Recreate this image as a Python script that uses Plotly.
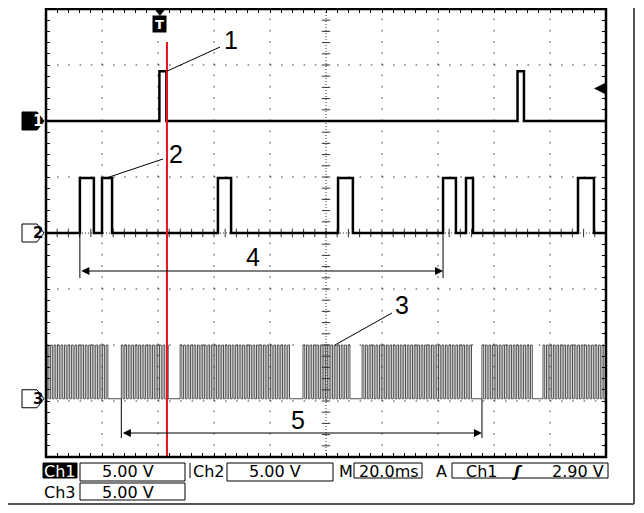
import plotly.graph_objects as go

# ---------------- data (time in ms, levels in screen divisions) ----------------
MS_PER_DIV = 20
N_XDIV, N_YDIV = 10, 8
ch1_levels = (6.0, 6.89)
ch2_levels = (4.0, 4.98)
ch3_levels = (1.04, 2.0)
ch1_pulses = [(40.5, 43.0), (168.4, 170.7)]
ch2_pulses = [(12.1, 17.1), (20.0, 23.6), (61.4, 66.1), (104.3, 109.6),
              (141.8, 146.4), (150.0, 152.5), (190.0, 195.7)]
ch3_bursts = [(0.4, 23.1), (26.9, 43.9), (47.9, 87.8), (91.8, 109.2),
              (112.9, 152.1), (155.7, 173.9), (177.5, 200.0)]
ch3_bit_ms = 0.62
trigger_ms = 40.7
cursor_ms = 43.2
trigger_level_div = 6.58

XMAX = MS_PER_DIV * N_XDIV

# ---------------- geometry (page pixels; page body has an 8px margin) ----------------
OFF = 8
PX0, PX1, PY0, PY1 = 46, 606, 9, 457          # plot area on the page
W, H = 644 - 2 * OFF, 513 - 2 * OFF           # keep the page free of scrollbars
L, T = PX0 - OFF, PY0 - OFF
R, B = W - (PX1 - OFF), H - (PY1 - OFF)
PW, PH = PX1 - PX0, PY1 - PY0


def pxx(x):  # page x -> paper
    return (x - PX0) / PW


def pxy(y):  # page y -> paper
    return (PY1 - y) / PH


def xms(x):
    return pxx(x) * XMAX


def ydiv(y):
    return pxy(y) * N_YDIV


def step(pulses, lo, hi):
    xs, ys = [0], [lo]
    for a, b in pulses:
        xs += [a, b]
        ys += [hi, lo]
    xs.append(XMAX)
    ys.append(lo)
    return xs, ys


ch3_pulses = []
for a, b in ch3_bursts:
    t = a
    while t + ch3_bit_ms <= b + 1e-9:
        ch3_pulses.append((t, t + ch3_bit_ms))
        t += 2 * ch3_bit_ms

fig = go.Figure()

# grid (dotted) ------------------------------------------------------------
shapes = []
for i in range(1, N_XDIV):
    xv = i * MS_PER_DIV
    dash = "1px,2px" if i == N_XDIV // 2 else "1.5px,9.7px"
    shapes.append(dict(type="line", xref="x", yref="y", x0=xv, x1=xv, y0=0, y1=N_YDIV,
                       line=dict(color="#333", width=1, dash=dash), layer="below"))
for j in range(1, N_YDIV):
    dash = "1px,2px" if j == N_YDIV // 2 else "1.5px,9.7px"
    shapes.append(dict(type="line", xref="x", yref="y", x0=0, x1=XMAX, y0=j, y1=j,
                       line=dict(color="#333", width=1, dash=dash), layer="below"))

# center-line ticks
fig.add_trace(go.Scatter(x=[XMAX / 2] * (N_YDIV * 5 + 1), y=[k * 0.2 for k in range(N_YDIV * 5 + 1)],
                         mode="markers", marker=dict(symbol="line-ew", size=6, line=dict(width=1, color="#333")),
                         hoverinfo="skip", showlegend=False))
fig.add_trace(go.Scatter(x=[k * MS_PER_DIV / 5 for k in range(N_XDIV * 5 + 1)], y=[N_YDIV / 2] * (N_XDIV * 5 + 1),
                         mode="markers", marker=dict(symbol="line-ns", size=6, line=dict(width=1, color="#333")),
                         hoverinfo="skip", showlegend=False))

# traces --------------------------------------------------------------------
for pulses, (lo, hi), w, col in [(ch1_pulses, ch1_levels, 2.5, "black"), (ch2_pulses, ch2_levels, 2.5, "black"),
                                 (ch3_pulses, ch3_levels, 0.9, "#3a3a3a")]:
    xs, ys = step(pulses, lo, hi)
    fig.add_trace(go.Scatter(x=xs, y=ys, mode="lines", line=dict(color=col, width=w, shape="hv"),
                             hoverinfo="skip", showlegend=False))

# red cursor
shapes.append(dict(type="line", xref="x", yref="y", x0=cursor_ms, x1=cursor_ms,
                   y0=0, y1=ydiv(42), line=dict(color="#e3121b", width=2)))

# callout lines
callouts = [((220, 47), (cursor_ms, ch1_levels[1])),
            ((163, 159), (xms(106), ch2_levels[1])),
            ((392, 313), (xms(335), ch3_levels[1]))]
for (tx, ty), (hx, hy) in callouts:
    shapes.append(dict(type="line", xref="x", yref="y", x0=xms(tx), y0=ydiv(ty), x1=hx, y1=hy,
                       line=dict(color="black", width=1)))

# span markers 4 and 5
span4 = (ch2_pulses[0][0], ch2_pulses[4][0])
span5 = (ch3_bursts[1][0], ch3_bursts[5][0])
annotations = []
for (a, b), base, yarr, ybot in [(span4, ch2_levels[0], ydiv(271), ydiv(278)),
                                  (span5, ch3_levels[0], ydiv(433), ydiv(438))]:
    for xv in (a, b):
        shapes.append(dict(type="line", xref="x", yref="y", x0=xv, x1=xv, y0=base, y1=ybot,
                           line=dict(color="black", width=1)))
    annotations.append(dict(x=b, y=yarr, ax=a, ay=yarr, xref="x", yref="y", axref="x", ayref="y",
                            text="", showarrow=True, arrowhead=2, arrowside="end+start",
                            arrowsize=1.6, arrowwidth=1, arrowcolor="black", standoff=0, startstandoff=0))

# number labels
for txt, (x, y) in [("1", (231, 40)), ("2", (176, 154)), ("3", (402, 305)),
                    ("4", (253, 257)), ("5", (298, 420))]:
    annotations.append(dict(x=xms(x), y=ydiv(y), xref="x", yref="y", text=txt, showarrow=False,
                            font=dict(family="Liberation Sans", size=25, color="black")))

# trigger level arrow (right)
shapes.append(dict(type="line", xref="paper", yref="y", x0=pxx(597), x1=pxx(607),
                   y0=trigger_level_div, y1=trigger_level_div, line=dict(color="black", width=2)))
annotations.append(dict(x=xms(594), y=trigger_level_div, xref="x", yref="y", ax=10, ay=0, text="",
                        showarrow=True, arrowhead=2, arrowsize=1.3, arrowwidth=2, arrowcolor="black",
                        standoff=0))
# trigger position marker
fig.add_trace(go.Scatter(x=[trigger_ms], y=[ydiv(12)], mode="markers",
                         marker=dict(symbol="triangle-down", size=8, color="black"),
                         cliponaxis=False, hoverinfo="skip", showlegend=False))
annotations.append(dict(x=trigger_ms, y=ydiv(24), xref="x", yref="y", text="<b>T</b>", showarrow=False,
                        bgcolor="black", width=11, height=14, borderpad=1,
                        font=dict(family="DejaVu Sans", size=13, color="white")))

# channel markers on the left
for label, base, filled in [("1", ch1_levels[0], True), ("2", ch2_levels[0], False), ("3", ch3_levels[0], False)]:
    shapes.append(dict(type="path", xref="paper", yref="y", xsizemode="pixel", ysizemode="pixel",
                       xanchor=0, yanchor=base,
                       path="M -24,-9 L -9,-9 L -2,0 L -9,9 L -24,9 Z",
                       fillcolor="black" if filled else "white", line=dict(color="black", width=1)))
    annotations.append(dict(x=pxx(31), y=base, xref="paper", yref="y", text="<b>%s</b>" % label,
                            showarrow=False, font=dict(family="DejaVu Sans", size=15,
                                                       color="white" if filled else "black")))

# status bar ----------------------------------------------------------------
SF = dict(family="DejaVu Sans", size=16, color="black")


def box(x0, y0, x1, y1, fill=None):
    shapes.append(dict(type="rect", xref="paper", yref="paper", x0=pxx(x0), x1=pxx(x1),
                       y0=pxy(y1), y1=pxy(y0), line=dict(color="black", width=1),
                       fillcolor=fill if fill else "rgba(0,0,0,0)"))


def text(x, y, s, color="black"):
    f = dict(SF)
    f["color"] = color
    annotations.append(dict(x=pxx(x), y=pxy(y), xref="paper", yref="paper", text=s,
                            showarrow=False, font=f, xanchor="center", yanchor="middle"))


box(43, 463, 77, 478, fill="black")
text(60, 471, "Ch1", "white")
box(80, 463, 185, 481)
text(128, 471, "5.00 V")
shapes.append(dict(type="line", xref="paper", yref="paper", x0=pxx(190), x1=pxx(190),
                   y0=pxy(478), y1=pxy(463), line=dict(color="black", width=1)))
text(209, 471, "Ch2")
box(227, 463, 333, 481)
text(275, 471, "5.00 V")
text(346, 471, "M")
box(354, 463, 422, 478)
text(389, 471, "20.0ms")
text(441, 471, "A")
box(452, 463, 608, 478)
text(482, 471, "Ch1")
text(517, 471, "<i><b>ʃ</b></i>")
text(578, 471, "2.90 V")
text(60, 492, "Ch3")
box(80, 483, 185, 500)
text(128, 492, "5.00 V")

# plot frame (drawn as a rect so the top edge is not clipped)
shapes.append(dict(type="rect", xref="paper", yref="paper", x0=0, x1=1, y0=0, y1=1,
                   line=dict(color="black", width=2.5)))

# screenshot frame (right and bottom edges)
shapes.append(dict(type="line", xref="paper", yref="paper", x0=pxx(634), x1=pxx(634),
                   y0=pxy(0), y1=pxy(504), line=dict(color="#555", width=2)))
shapes.append(dict(type="line", xref="paper", yref="paper", x0=pxx(0), x1=pxx(634),
                   y0=pxy(504), y1=pxy(504), line=dict(color="#555", width=2)))

axis_common = dict(showgrid=False, zeroline=False, showline=False,
                   mirror="ticks", ticks="inside", ticklen=4, tickcolor="black", tickwidth=1,
                   showticklabels=False, fixedrange=True)
fig.update_layout(
    width=W, height=H, margin=dict(l=L, r=R, t=T, b=B, autoexpand=False),
    paper_bgcolor="white", plot_bgcolor="white", showlegend=False,
    xaxis=dict(range=[0, XMAX], tick0=0, dtick=MS_PER_DIV / 5, **axis_common),
    yaxis=dict(range=[0, N_YDIV], tick0=0, dtick=0.2, **axis_common),
    shapes=shapes, annotations=annotations,
)
fig.write_html("out.html")
